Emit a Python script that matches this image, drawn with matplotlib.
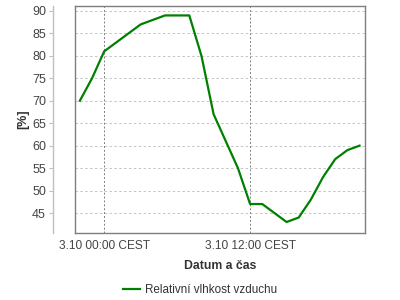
import matplotlib
matplotlib.use("Agg")
import matplotlib.pyplot as plt
from matplotlib.lines import Line2D

plt.rcParams['font.family'] = ['Liberation Sans', 'DejaVu Sans']

# hours relative to 3.10 00:00 CEST
hours = [-2, -1, 0, 1, 2, 3, 4, 5, 6, 7, 8, 9, 10, 11, 12, 13, 14, 15, 16, 17, 18, 19, 20, 21]
humidity = [70, 75, 81, 83, 85, 87, 88, 89, 89, 89, 80, 67, 61, 55, 47, 47, 45, 43, 44, 48, 53, 57, 59, 60]
x_ticks = [0, 12]
x_tick_labels = ["3.10 00:00 CEST", "3.10 12:00 CEST"]
y_ticks = [45, 50, 55, 60, 65, 70, 75, 80, 85, 90]
series_label = "Relativní vlhkost vzduchu"
x_label = "Datum a čas"
y_label = "[%]"

fig = plt.figure(figsize=(4, 3), dpi=100)
ax = fig.add_axes([75/400, 1-233/300, 290/400, 227/300])

xlim = (-2.4, 21.45)
ylim = (40.55, 91.1)
ax.set_xlim(*xlim)
ax.set_ylim(*ylim)

ax.plot(hours, humidity, color="#008000", lw=1.6, solid_joinstyle='round')

ax.set_yticks(y_ticks)
ax.set_xticks(x_ticks)
ax.set_xticklabels(x_tick_labels)

for y in y_ticks:
    ax.axhline(y, color="#c4c4c4", lw=0.7, ls=(0, (2.5, 2.5)), zorder=0)
for x in x_ticks:
    ax.axvline(x, color="#808080", lw=0.7, ls=(0, (2, 2)), zorder=0)

frame_color = "#7f7f7f"
for s in ['top', 'right', 'bottom']:
    ax.spines[s].set_color(frame_color)
    ax.spines[s].set_linewidth(1.0)
# 22 px outward (points at 100 dpi)
ax.spines['left'].set_position(('outward', 22 * 0.72))
ax.spines['left'].set_color("#c0c0c0")
ax.spines['left'].set_linewidth(1.0)
ax.axvline(xlim[0], color=frame_color, lw=1.0, clip_on=False, zorder=3)

ax.tick_params(axis='y', length=3, width=0.8, color="#c0c0c0", pad=2,
               labelsize=9, labelcolor="#444444")
ax.tick_params(axis='x', length=0, pad=5, labelsize=8.6, labelcolor="#444444")

ax.set_xlabel(x_label, fontsize=8.8, fontweight='bold', color="#333333", labelpad=6)
ax.set_ylabel(y_label, fontsize=9, fontweight='bold', color="#333333", labelpad=2)

handle = Line2D([0], [0], color="#008000", lw=1.6)
fig.legend([handle], [series_label], loc='center', bbox_to_anchor=(0.5, 1-290/300),
           frameon=False, fontsize=8.4, handlelength=1.5, handletextpad=0.4,
           labelcolor="#333333")

fig.savefig("out.png", dpi=100)
